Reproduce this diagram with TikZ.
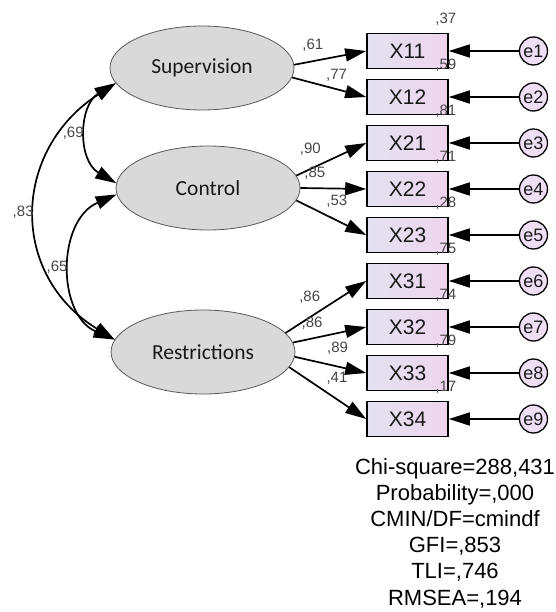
\documentclass[tikz,border=0pt]{standalone}
\usepackage{fontspec}
\setmainfont{Liberation Sans}
\newfontfamily\calibfont{Carlito}
\usetikzlibrary{positioning,arrows.meta,shapes.geometric}

\definecolor{boxleft}{RGB}{226,226,240}
\definecolor{boxright}{RGB}{239,213,239}
\definecolor{errfill}{RGB}{239,223,245}
\definecolor{latfill}{RGB}{217,217,217}
\definecolor{numgray}{RGB}{70,70,70}

\begin{document}
\begin{tikzpicture}[
    x=1pt, y=-1pt,
    >={Triangle[length=21pt,width=13pt]},
    node distance=9.4pt and 70pt,
    latent/.style={draw=black!65, ellipse, fill=latfill, line width=0.8pt,
                   minimum width=184pt, minimum height=84pt, inner sep=0pt,
                   font=\calibfont\fontsize{21.5pt}{24pt}\selectfont, text=black!90},
    obs/.style={draw, line width=1.6pt, left color=boxleft, right color=boxright,
                minimum width=81pt, minimum height=35pt, inner sep=0pt,
                font=\fontsize{21pt}{24pt}\selectfont, text=black!90},
    err/.style={draw, circle, line width=1.3pt, fill=errfill, minimum size=28pt,
                inner sep=0pt, font=\fontsize{18pt}{20pt}\selectfont, text=black!90},
    coef/.style={font=\fontsize{15pt}{17pt}\selectfont, text=numgray, inner sep=0pt},
    rsq/.style={coef, anchor=center, xshift=-3pt, yshift=13.5pt},
    arrow/.style={->, line width=1.7pt},
    darrow/.style={<->, line width=1.7pt},
]
\useasboundingbox (0,0) rectangle (555,612);

% === Latent factors ===
\node[latent] (sup) at (202,68)  {Supervision};
\node[latent] (con) at (208,188) {Control};
\node[latent] (res) at (203,352) {Restrictions};

% === Observed items ===
\node[obs, label={[rsq]north east:,37}] (x11) at (407.5,51) {X11};
\node[obs, below=of x11, label={[rsq]north east:,59}] (x12) {X12};
\node[obs, below=of x12, label={[rsq]north east:,81}] (x21) {X21};
\node[obs, below=of x21, label={[rsq]north east:,71}] (x22) {X22};
\node[obs, below=of x22, label={[rsq]north east:,28}] (x23) {X23};
\node[obs, below=of x23, label={[rsq]north east:,75}] (x31) {X31};
\node[obs, below=of x31, label={[rsq]north east:,74}] (x32) {X32};
\node[obs, below=of x32, label={[rsq]north east:,79}] (x33) {X33};
\node[obs, below=of x33, label={[rsq]north east:,17}] (x34) {X34};

% === Error terms ===
\node[err, right=of x11] (e1) {e1};
\node[err, right=of x12] (e2) {e2};
\node[err, right=of x21] (e3) {e3};
\node[err, right=of x22] (e4) {e4};
\node[err, right=of x23] (e5) {e5};
\node[err, right=of x31] (e6) {e6};
\node[err, right=of x32] (e7) {e7};
\node[err, right=of x33] (e8) {e8};
\node[err, right=of x34] (e9) {e9};

% === Loadings ===
\draw[arrow] (sup.2)   -- node[coef, pos=0.26, yshift=15.5pt] {,61} (x11.west);
\draw[arrow] (sup.354) -- node[coef, pos=0.60, yshift=14pt]   {,77} (x12.west);
\draw[arrow] (con.8.5) -- node[coef, pos=0.20, yshift=20pt]   {,90} (x21.west);
\draw[arrow] (con.0)   -- node[coef, pos=0.22, yshift=15pt]   {,85} (x22.west);
\draw[arrow] (con.352) -- node[coef, pos=0.58, yshift=19pt]   {,53} (x23.west);
\draw[arrow] (res.13)  -- node[coef, pos=0.30, yshift=20pt]   {,86} (x31.west);
\draw[arrow] (res.6)   -- node[coef, pos=0.26, yshift=15pt]   {,86} (x32.west);
\draw[arrow] (res.357) -- node[coef, pos=0.60, yshift=18pt]   {,89} (x33.west);
\draw[arrow] (res.350) -- node[coef, pos=0.62, yshift=21.5pt] {,41} (x34.west);

% === Errors -> items ===
\foreach \i/\x in {1/x11,2/x12,3/x21,4/x22,5/x23,6/x31,7/x32,8/x33,9/x34}
  \draw[arrow] (e\i) -- (\x);

% === Correlations ===
\draw[darrow] (sup.190) .. controls +(-104,67) and +(-106,-65) ..
     node[coef, left=2pt, pos=0.5] {,83} (res.172);
\draw[darrow] (sup.190) .. controls +(-37,22) and +(-39,-23) ..
     node[coef, left=3pt, pos=0.5] {,69} (con.177);
\draw[darrow] (con.184) .. controls +(-60,26) and +(-58,-25) ..
     node[coef, left=3pt, pos=0.5] {,65} (res.172);

% === Fit indices ===
\node[font=\fontsize{22pt}{26.2pt}\selectfont, align=center, inner sep=0pt] (gof)
     at (455,533) {Chi-square=288,431\\Probability=,000\\CMIN/DF=cmindf\\GFI=,853\\TLI=,746\\RMSEA=,194};

\end{tikzpicture}
\end{document}
